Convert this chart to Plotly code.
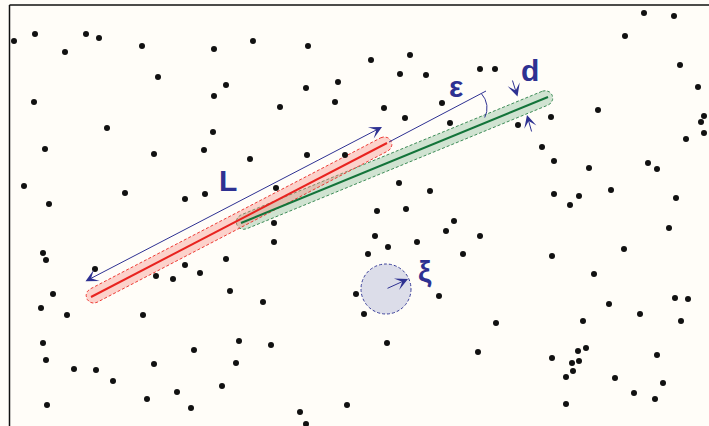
import numpy as np
import plotly.graph_objects as go

# Scatter of obstacle points (x, y in canvas units, y grows downward)
dot_x = [14, 35, 86, 99, 65, 142, 214, 158, 226, 214, 34, 107, 213,
         253, 308, 371, 410, 400, 426, 338, 306, 280, 335, 384, 405, 442, 450,
         644, 674, 625, 680, 480, 495, 698, 598, 551, 518, 704, 701, 704, 686,
         45, 154, 204, 24, 125, 49, 185, 205, 43, 46, 95, 226, 185, 200, 156, 173,
         250, 307, 345, 276, 399, 430, 377, 406, 274, 454, 446, 375, 417, 388, 274, 368, 463,
         542, 554, 589, 648, 657, 554, 579, 570, 611, 676, 480, 669, 552, 624, 594,
         53, 41, 67, 143, 230, 43, 46, 74, 96, 113, 194, 154, 239, 236, 222, 177, 147, 191, 47,
         263, 356, 364, 439, 271, 387, 347, 300, 306,
         496, 478, 609, 640, 675, 688, 681, 583, 552, 578, 586, 572, 579, 573, 566, 615, 657, 663, 634, 655, 566]
dot_y = [41, 34, 34, 38, 52, 46, 49, 77, 85, 96, 102, 128, 132,
         41, 46, 60, 55, 74, 75, 82, 88, 107, 102, 108, 118, 103, 123,
         13, 16, 36, 65, 69, 69, 87, 110, 117, 125, 116, 122, 133, 139,
         149, 154, 150, 186, 193, 204, 199, 194, 253, 260, 269, 259, 265, 273, 276, 279,
         159, 155, 155, 188, 183, 191, 211, 209, 223, 221, 231, 236, 242, 247, 242, 254, 254,
         147, 161, 168, 163, 169, 194, 196, 205, 190, 198, 236, 228, 256, 249, 274,
         294, 308, 315, 315, 291, 343, 360, 369, 370, 381, 350, 364, 341, 363, 386, 392, 399, 408, 405,
         302, 294, 314, 296, 345, 343, 405, 412, 424,
         323, 352, 304, 314, 298, 299, 321, 321, 358, 351, 348, 363, 361, 371, 377, 378, 355, 383, 393, 399, 404]

# Rod axes: start and end points
red_rod = [(91, 297), (387, 143)]
green_rod = [(241, 223), (548, 97)]
rod_half_width = 7.5

# Length marker L, extension of the red axis, and the small-scale radius circle
length_arrow = [(84, 282), (382, 127)]
axis_extension = [(389, 142), (486, 91)]
eps_arc_center, eps_arc_radius, eps_arc_span = (466, 108), 21, (-42, 27)
xi_center, xi_radius = (386, 289), 25
xi_arrow_tip = (408, 279)
d_arrows = [((512, 79), (517.5, 96.5)), ((532, 133), (527, 115))]

labels = ["L", "d", "ε", "ξ"]
label_pos = [(228, 180), (530, 70), (456, 86), (425, 271)]

BLUE = "#2e3192"
BG = "#fffdf8"


def capsule(p0, p1, r, inset=3, n=30):
    p0, p1 = np.array(p0, float), np.array(p1, float)
    u = (p1 - p0) / np.linalg.norm(p1 - p0)
    a, b = p0 + u * inset, p1 - u * inset
    ang0 = np.arctan2(u[1], u[0])
    t1 = np.linspace(ang0 - np.pi / 2, ang0 + np.pi / 2, n)
    t0 = np.linspace(ang0 + np.pi / 2, ang0 + 3 * np.pi / 2, n)
    xs = np.concatenate([b[0] + r * np.cos(t1), a[0] + r * np.cos(t0)])
    ys = np.concatenate([b[1] + r * np.sin(t1), a[1] + r * np.sin(t0)])
    return np.append(xs, xs[0]), np.append(ys, ys[0])


fig = go.Figure()

# Small-scale circle ξ
fig.add_shape(type="circle", xref="x", yref="y",
              x0=xi_center[0] - xi_radius, x1=xi_center[0] + xi_radius,
              y0=xi_center[1] - xi_radius, y1=xi_center[1] + xi_radius,
              fillcolor="#dcdde9", line=dict(color="#3a3f9a", width=1, dash="3px,2px"),
              layer="below")

# Rod bodies
gx, gy = capsule(*green_rod, rod_half_width)
fig.add_trace(go.Scatter(x=gx, y=gy, mode="lines", fill="toself",
                         fillcolor="rgba(100,170,120,0.30)",
                         line=dict(color="#3d8c57", width=1, dash="3px,2px"),
                         hoverinfo="skip", showlegend=False))
rx, ry = capsule(*red_rod, rod_half_width)
fig.add_trace(go.Scatter(x=rx, y=ry, mode="lines", fill="toself",
                         fillcolor="rgba(248,140,130,0.38)",
                         line=dict(color="#ee3b35", width=1, dash="3px,2px"),
                         hoverinfo="skip", showlegend=False))

# Rod axes
for rod, col in ((green_rod, "#13743a"), (red_rod, "#e8231f")):
    fig.add_trace(go.Scatter(x=[rod[0][0], rod[1][0]], y=[rod[0][1], rod[1][1]],
                             mode="lines", line=dict(color=col, width=2),
                             hoverinfo="skip", showlegend=False))

# Extension of the red axis and the angle arc ε
fig.add_trace(go.Scatter(x=[p[0] for p in axis_extension], y=[p[1] for p in axis_extension],
                         mode="lines", line=dict(color=BLUE, width=1),
                         hoverinfo="skip", showlegend=False))
th = np.radians(np.linspace(eps_arc_span[0], eps_arc_span[1], 40))
fig.add_trace(go.Scatter(x=eps_arc_center[0] + eps_arc_radius * np.cos(th),
                         y=eps_arc_center[1] + eps_arc_radius * np.sin(th),
                         mode="lines", line=dict(color=BLUE, width=1),
                         hoverinfo="skip", showlegend=False))

# Points
fig.add_trace(go.Scatter(x=dot_x, y=dot_y, mode="markers",
                         marker=dict(size=6, color="#111111"),
                         hoverinfo="skip", showlegend=False))

# Arrows
arrow_common = dict(xref="x", yref="y", axref="x", ayref="y", text="",
                    showarrow=True, arrowcolor=BLUE, arrowwidth=1,
                    arrowhead=3, arrowsize=2.1, standoff=0, startstandoff=0)
fig.add_annotation(x=length_arrow[1][0], y=length_arrow[1][1],
                   ax=length_arrow[0][0], ay=length_arrow[0][1],
                   arrowside="end+start", startarrowhead=3, startarrowsize=2.1,
                   **arrow_common)
for tail, tip in d_arrows:
    fig.add_annotation(x=tip[0], y=tip[1], ax=tail[0], ay=tail[1], **arrow_common)
fig.add_annotation(x=xi_arrow_tip[0], y=xi_arrow_tip[1],
                   ax=xi_center[0], ay=xi_center[1], **arrow_common)

# Symbols
for txt, (lx, ly) in zip(labels, label_pos):
    fig.add_annotation(x=lx, y=ly, xref="x", yref="y", text="<b>%s</b>" % txt,
                       showarrow=False, xanchor="center", yanchor="middle",
                       font=dict(family="Liberation Sans, Arial", size=30, color=BLUE))

# Frame on the left and top edges
fig.add_shape(type="line", xref="x", yref="y", x0=9.5, x1=9.5, y0=5, y1=426,
              line=dict(color="#111111", width=1.5))
fig.add_shape(type="line", xref="x", yref="y", x0=9.5, x1=709, y0=5, y1=5,
              line=dict(color="#111111", width=1.5))

fig.update_layout(width=709, height=426, margin=dict(l=0, r=0, t=0, b=0),
                  paper_bgcolor=BG, plot_bgcolor=BG,
                  xaxis=dict(range=[0, 709], visible=False, fixedrange=True),
                  yaxis=dict(range=[426, 0], visible=False, fixedrange=True))

fig.write_html("out.html")
